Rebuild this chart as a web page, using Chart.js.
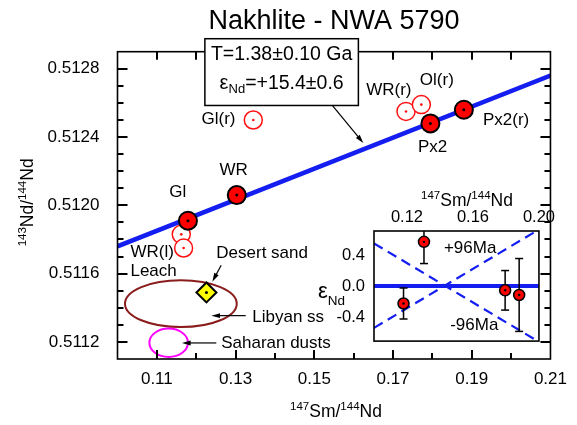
<!DOCTYPE html>
<html>
<head>
<meta charset="utf-8">
<script src="https://cdn.jsdelivr.net/npm/chart.js@4.4.0/dist/chart.umd.min.js"></script>
<style>
  html, body { margin: 0; padding: 0; background: #fff; }
  #wrap { position: relative; width: 577px; height: 425px; }
  #main { position: absolute; left: 0; top: 0; }
  #inset { position: absolute; left: 300px; top: 180px; }
</style>
</head>
<body>
<div id="wrap">
  <canvas id="main" width="577" height="425"></canvas>
  <canvas id="inset" width="259" height="180"></canvas>
</div>
<script>
const FONT = '"Liberation Sans", Arial, Helvetica, sans-serif';

// isochron fractions (filled symbols)
const fitLabels = ['Gl', 'WR', 'Px2', 'Px2(r)'];
const fitSmNd = [0.1179, 0.1303, 0.1795, 0.1880];
const fitNdNd = [0.51191, 0.51206, 0.51248, 0.51256];

// residues / leach (open symbols)
const openLabels = ['Gl(r)', 'WR(r)', 'Ol(r)', 'WR(l)', 'WR(l)'];
const openSmNd = [0.1345, 0.1733, 0.1772, 0.1162, 0.1168];
const openNdNd = [0.51250, 0.51255, 0.51259, 0.51183, 0.51175];

// desert sand
const sandSmNd = [0.1226];
const sandNdNd = [0.51149];

// isochron T=1.38 Ga
const isoSmNd = [0.10, 0.21];
const isoNdNd = [0.51176, 0.51276];

// fields: centre and half-width (Sm/Nd, Nd/Nd)
const libyanCentre = [0.1161, 0.511424];
const libyanSpread = [0.0142, 0.000137];
const saharanCentre = [0.1130, 0.511195];
const saharanSpread = [0.0049, 0.000083];

// axis ticks (main plot)
const xTicks = [0.11, 0.12, 0.13, 0.14, 0.15, 0.16, 0.17, 0.18, 0.19, 0.20];
const xTickLabels = ['0.11', '0.13', '0.15', '0.17', '0.19', '0.21'];
const yTicks = [0.5112, 0.5113, 0.5114, 0.5115, 0.5116, 0.5117, 0.5118, 0.5119, 0.5120,
  0.5121, 0.5122, 0.5123, 0.5124, 0.5125, 0.5126, 0.5127, 0.5128];
const yTickLabels = ['0.5112', '0.5116', '0.5120', '0.5124', '0.5128'];

// inset: deviation from isochron in epsilon units
const epsNd = [-0.225, 0.57, -0.055, -0.115];
const epsErr = [0.2, 0.28, 0.255, 0.47];
const refSmNd = [0.10, 0.20];
const zeroEps = [0, 0];
const plus96 = [-0.54, 0.73];
const minus96 = [0.55, -0.72];

const pts = (xs, ys) => xs.map((v, i) => ({x: v, y: ys[i]}));

// annotation placement (data units)
const pointNotes = [
  ['Gl', 0.11531, 0.512078, 'center'],
  ['WR', 0.12951, 0.512205, 'center'],
  ['Gl(r)', 0.12565, 0.512504, 'center'],
  ['WR(r)', 0.16893, 0.512673, 'center'],
  ['Ol(r)', 0.18113, 0.512732, 'center'],
  ['Px2', 0.18005, 0.512338, 'center'],
  ['Px2(r)', 0.19873, 0.512498, 'center'],
  ['WR(l)', 0.10329, 0.511727, 'left'],
  ['Leach', 0.10329, 0.511615, 'left'],
  ['Desert sand', 0.12510, 0.511721, 'left'],
  ['Libyan ss', 0.13424, 0.511346, 'left'],
  ['Saharan dusts', 0.12634, 0.511194, 'left']
];
const arrows = [
  [0.15458, 0.512585, 0.16245, 0.512365],
  [0.12634, 0.511649, 0.12410, 0.511553],
  [0.13257, 0.511354, 0.12385, 0.511354],
  [0.12510, 0.511194, 0.11638, 0.511194]
];
const ageBox = [0.1222, 0.512976, 0.1612, 0.512585];

function rich(ctx, parts, x, y, align) {
  let w = 0;
  parts.forEach(p => { ctx.font = p[1] + 'px ' + FONT; w += ctx.measureText(p[0]).width; });
  let cx = align === 'center' ? x - w / 2 : (align === 'right' ? x - w : x);
  ctx.textAlign = 'left';
  ctx.textBaseline = 'alphabetic';
  parts.forEach(p => {
    ctx.font = p[1] + 'px ' + FONT;
    ctx.fillText(p[0], cx, y + p[2]);
    cx += ctx.measureText(p[0]).width;
  });
}

function arrowTo(ctx, x1, y1, x2, y2) {
  const a = Math.atan2(y2 - y1, x2 - x1), h = 9, s = 0.28;
  ctx.beginPath();
  ctx.moveTo(x1, y1);
  ctx.lineTo(x2 - 4 * Math.cos(a), y2 - 4 * Math.sin(a));
  ctx.stroke();
  ctx.beginPath();
  ctx.moveTo(x2, y2);
  ctx.lineTo(x2 - h * Math.cos(a - s), y2 - h * Math.sin(a - s));
  ctx.lineTo(x2 - h * Math.cos(a + s), y2 - h * Math.sin(a + s));
  ctx.closePath();
  ctx.fill();
}

function inwardTicks(ctx, a, x, y) {
  ctx.fillStyle = '#000';
  for (const v of xTicks) {
    const p = Math.round(x.getPixelForValue(v));
    const len = xTickLabels.indexOf(v.toFixed(2)) >= 0 ? 9 : 6;
    ctx.fillRect(p - 1, a.bottom - len, 2, len);
    ctx.fillRect(p - 1, a.top, 2, 8);
  }
  for (const v of yTicks) {
    const p = Math.round(y.getPixelForValue(v));
    const len = yTickLabels.indexOf(v.toFixed(4)) >= 0 ? 10 : 6;
    ctx.fillRect(a.left, p - 1, len, 2);
    ctx.fillRect(a.right - len, p - 1, len, 2);
  }
}

const mainDecor = {
  id: 'mainDecor',
  beforeDatasetsDraw(chart) {
    const {ctx, scales: {x, y}} = chart;
    ctx.save();
    [[libyanCentre, libyanSpread, '#8a1c1c'], [saharanCentre, saharanSpread, '#ff00ff']].forEach(f => {
      const cx = x.getPixelForValue(f[0][0]), cy = y.getPixelForValue(f[0][1]);
      const rx = Math.abs(x.getPixelForValue(f[0][0] + f[1][0]) - cx);
      const ry = Math.abs(y.getPixelForValue(f[0][1] + f[1][1]) - cy);
      ctx.beginPath();
      ctx.ellipse(cx, cy, rx, ry, 0, 0, Math.PI * 2);
      ctx.strokeStyle = f[2];
      ctx.lineWidth = 2;
      ctx.stroke();
    });
    ctx.restore();
  },
  afterDraw(chart) {
    const {ctx, chartArea: a, scales: {x, y}} = chart;
    ctx.save();
    ctx.strokeStyle = '#000';
    ctx.fillStyle = '#000';
    ctx.lineWidth = 1.6;
    ctx.strokeRect(a.left, a.top, a.right - a.left, a.bottom - a.top);
    inwardTicks(ctx, a, x, y);

    // labels
    ctx.font = '17px ' + FONT;
    ctx.textBaseline = 'middle';
    pointNotes.forEach(n => {
      ctx.textAlign = n[3];
      ctx.fillText(n[0], x.getPixelForValue(n[1]), y.getPixelForValue(n[2]));
    });

    // age box
    const bl = x.getPixelForValue(ageBox[0]), bt = y.getPixelForValue(ageBox[1]);
    const br = x.getPixelForValue(ageBox[2]), bb = y.getPixelForValue(ageBox[3]);
    ctx.fillStyle = '#fff';
    ctx.fillRect(bl, bt, br - bl, bb - bt);
    ctx.lineWidth = 1.5;
    ctx.strokeRect(bl, bt, br - bl, bb - bt);
    ctx.fillStyle = '#000';
    const bc = (bl + br) / 2;
    rich(ctx, [['T=1.38\u00b10.10 Ga', 19.5, 0]], bc, bt + 21.7, 'center');
    rich(ctx, [['\u03b5', 20, 0], ['Nd', 13, 4], ['=+15.4\u00b10.6', 19.5, 0]], bc, bt + 50, 'center');

    // arrows
    ctx.lineWidth = 1.2;
    arrows.forEach(r => arrowTo(ctx, x.getPixelForValue(r[0]), y.getPixelForValue(r[1]),
      x.getPixelForValue(r[2]), y.getPixelForValue(r[3])));

    // axis titles
    rich(ctx, [['147', 11.5, -7], ['Sm/', 17.5, 0], ['144', 11.5, -7], ['Nd', 17.5, 0]],
      (a.left + a.right) / 2 + 2, a.bottom + 58, 'center');
    ctx.translate(33, (a.top + a.bottom) / 2 - 3);
    ctx.rotate(-Math.PI / 2);
    rich(ctx, [['143', 11.5, -7], ['Nd/', 17.5, 0], ['144', 11.5, -7], ['Nd', 17.5, 0]], 0, 0, 'center');
    ctx.restore();
  }
};

new Chart(document.getElementById('main'), {
  type: 'scatter',
  data: {
    datasets: [
      {data: pts(isoSmNd, isoNdNd), showLine: true, borderColor: 'rgb(20,30,240)', borderWidth: 4.5,
        pointRadius: 0, clip: 0, order: 5},
      {data: pts(openSmNd, openNdNd), pointRadius: 9, borderColor: '#ff1010', borderWidth: 1.5,
        backgroundColor: '#fff', order: 3},
      {data: pts(fitSmNd, fitNdNd), pointRadius: 9, borderColor: '#000', borderWidth: 2,
        backgroundColor: '#ff0000', order: 2},
      {data: pts(sandSmNd, sandNdNd), pointStyle: 'rectRot', pointRadius: 10, borderColor: '#000',
        borderWidth: 2, backgroundColor: '#ffff00', order: 2},
      {data: pts(openSmNd, openNdNd), pointRadius: 1.3, borderWidth: 0, backgroundColor: '#ff1010', order: 1},
      {data: pts(fitSmNd.concat(sandSmNd), fitNdNd.concat(sandNdNd)), pointRadius: 1.5, borderWidth: 0,
        backgroundColor: '#000', order: 0}
    ]
  },
  options: {
    responsive: false,
    animation: false,
    events: [],
    layout: {padding: {top: 0, left: 0, right: 17.7, bottom: 0}},
    plugins: {
      legend: {display: false},
      tooltip: {enabled: false},
      title: {display: true, text: 'Nakhlite - NWA 5790', fullSize: false, color: '#000',
        font: {family: FONT, size: 27, weight: 'normal'}, padding: {top: 5.5, bottom: 13.8}}
    },
    scales: {
      x: {
        type: 'linear', min: 0.10, max: 0.21,
        grid: {display: false, drawTicks: false}, border: {display: false},
        ticks: {stepSize: 0.01, autoSkip: false, maxRotation: 0, padding: 10, color: '#000',
          font: {family: FONT, size: 17},
          callback: v => (xTickLabels.includes(v.toFixed(2)) ? v.toFixed(2) : '')},
        afterFit: s => { s.height = 66; }
      },
      y: {
        min: 0.5111, max: 0.5129,
        grid: {display: false, drawTicks: false}, border: {display: false},
        ticks: {stepSize: 0.0001, autoSkip: false, padding: 18, color: '#000',
          font: {family: FONT, size: 17},
          callback: v => (yTickLabels.includes(v.toFixed(4)) ? v.toFixed(4) : '')},
        afterFit: s => { s.width = 117.5; }
      }
    }
  },
  plugins: [mainDecor]
});

// inset chart
const barData = [];
fitSmNd.forEach((v, i) => {
  barData.push({x: v, y: epsNd[i] - epsErr[i]}, {x: v, y: epsNd[i] + epsErr[i]}, {x: v, y: null});
});

const insetDecor = {
  id: 'insetDecor',
  beforeDatasetsDraw(chart) {
    const {ctx, chartArea: a} = chart;
    ctx.save();
    ctx.fillStyle = '#fff';
    ctx.fillRect(a.left, a.top, a.right - a.left, a.bottom - a.top);
    ctx.restore();
  },
  afterDraw(chart) {
    const {ctx, chartArea: a, scales: {x, y}} = chart;
    ctx.save();
    ctx.strokeStyle = '#000';
    ctx.fillStyle = '#000';
    ctx.lineWidth = 1.6;
    ctx.strokeRect(a.left, a.top, a.right - a.left, a.bottom - a.top);
    ctx.font = '17px ' + FONT;
    ctx.textAlign = 'center';
    ctx.textBaseline = 'middle';
    ctx.fillText('+96Ma', x.getPixelForValue(0.1583), y.getPixelForValue(0.49));
    ctx.fillText('-96Ma', x.getPixelForValue(0.1608), y.getPixelForValue(-0.505));
    rich(ctx, [['147', 11.5, -7], ['Sm/', 17.5, 0], ['144', 11.5, -7], ['Nd', 17.5, 0]],
      (a.left + a.right) / 2 + 10.5, a.top - 24.7, 'center');
    rich(ctx, [['\u03b5', 22, 0], ['Nd', 13.5, 7]], a.left - 56, a.top + 67, 'left');
    ctx.restore();
  }
};

new Chart(document.getElementById('inset'), {
  type: 'scatter',
  data: {
    datasets: [
      {data: pts(refSmNd, zeroEps), showLine: true, borderColor: 'rgb(20,30,240)', borderWidth: 4,
        pointRadius: 0, order: 5},
      {data: pts(refSmNd, plus96), showLine: true, borderColor: 'rgb(20,30,240)', borderWidth: 2.2,
        borderDash: [10, 6], pointRadius: 0, order: 5},
      {data: pts(refSmNd, minus96), showLine: true, borderColor: 'rgb(20,30,240)', borderWidth: 2.2,
        borderDash: [10, 6], pointRadius: 0, order: 5},
      {data: barData, showLine: true, spanGaps: false, borderColor: '#000', borderWidth: 1.5,
        pointStyle: 'line', pointRadius: 4, pointBorderColor: '#000', pointBorderWidth: 1.5, order: 3},
      {data: pts(fitSmNd, epsNd), pointRadius: 5.5, borderColor: '#000', borderWidth: 1.5,
        backgroundColor: '#ff0000', order: 1},
      {data: pts(fitSmNd, epsNd), pointRadius: 1.2, borderWidth: 0, backgroundColor: '#000', order: 0}
    ]
  },
  options: {
    responsive: false,
    animation: false,
    events: [],
    layout: {padding: {top: 0, left: 0, right: 19, bottom: 13.3}},
    plugins: {legend: {display: false}, tooltip: {enabled: false}},
    scales: {
      x: {
        type: 'linear', position: 'top', min: 0.10, max: 0.20,
        grid: {display: false, drawTicks: false}, border: {display: false},
        ticks: {stepSize: 0.02, autoSkip: false, maxRotation: 0, padding: 4, color: '#000',
          font: {family: FONT, size: 16.5},
          callback: v => { const r = Math.round(v * 100); return (r % 4 === 0 && r > 10) ? v.toFixed(2) : ''; }},
        afterFit: s => { s.height = 51; }
      },
      y: {
        min: -0.71, max: 0.71,
        grid: {display: false, drawTicks: false}, border: {display: false},
        ticks: {stepSize: 0.2, autoSkip: false, padding: 9, color: '#000',
          font: {family: FONT, size: 16.5},
          callback: v => {
            const r = Math.round(v * 10);
            if (Math.abs(v * 10 - r) > 1e-6 || r % 4 !== 0) return '';
            return Math.abs(v) < 1e-9 ? '0.0' : v.toFixed(1);
          }},
        afterFit: s => { s.width = 74; }
      }
    }
  },
  plugins: [insetDecor]
});
</script>
</body>
</html>
